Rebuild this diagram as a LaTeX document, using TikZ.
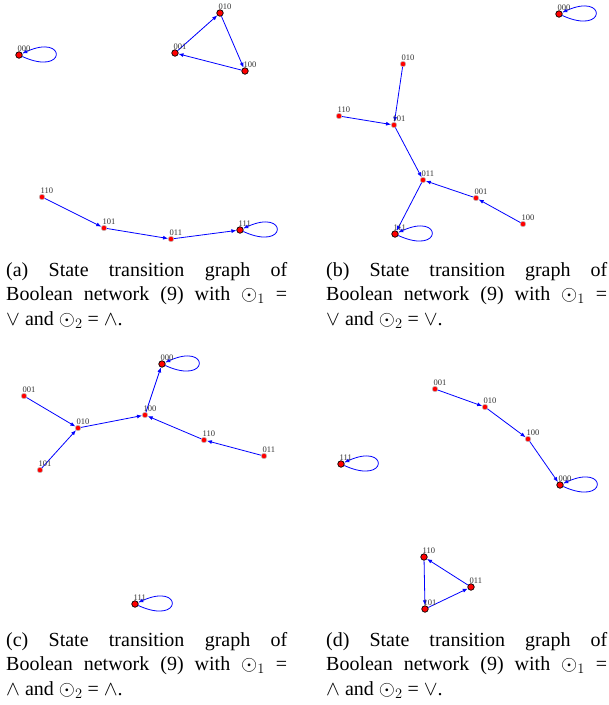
\documentclass[tikz,border=0pt]{standalone}
\usepackage{fontspec}
\setmainfont{Liberation Serif}
\usetikzlibrary{arrows.meta}
\newcommand\gnode[5]{\node[#1] (#2) at (#3,#4) {};}
\newcommand\glabel[4]{\node[lbl] (#1l) at (#2-1.5,#3-3.5) {#4};}
\newcommand\capt[2]{\parbox[t]{#1}{\tolerance=10000\hbadness=10000\hyphenpenalty=10000 #2}}
\begin{document}
\begin{tikzpicture}[x=1pt,y=-1pt,
 att/.style={circle,fill=red,draw=black,line width=0.7pt,minimum size=6.5pt,inner sep=0pt},
 st/.style={circle,fill=red,draw=black!25,line width=0.5pt,minimum size=5.5pt,inner sep=0pt},
 lbl/.style={anchor=base west,inner sep=0pt,text=black!80,font=\fontsize{8.5}{9}\selectfont},
 tr/.style={draw=blue,line width=0.8pt,-{Latex[length=5pt,width=4pt]}},
 captxt/.style={anchor=base west,inner sep=0pt,font=\fontsize{20}{24.5}\selectfont}]
\useasboundingbox (0,0) rectangle (609,705);
% ---------- panel (a)
\gnode{att}{a000}{19}{55}{000}
\gnode{att}{a001}{175}{53}{001}
\gnode{att}{a010}{220}{13}{010}
\gnode{att}{a100}{245}{71}{100}
\gnode{st}{a110}{42}{197}{110}
\gnode{st}{a101}{104}{228}{101}
\gnode{st}{a011}{171}{239}{011}
\gnode{att}{a111}{240}{230}{111}
\draw[tr] (a001) -- (a010);
\draw[tr] (a010) -- (a100);
\draw[tr] (a100) -- (a001);
\draw[tr] (a110) -- (a101);
\draw[tr] (a101) -- (a011);
\draw[tr] (a011) -- (a111);
\draw[tr] (a000) .. controls +(48,22) and +(48,-22) .. (a000);
\draw[tr] (a111) .. controls +(48,22) and +(48,-22) .. (a111);
\glabel{a000}{19}{55}{000}
\glabel{a001}{175}{53}{001}
\glabel{a010}{220}{13}{010}
\glabel{a100}{245}{71}{100}
\glabel{a110}{42}{197}{110}
\glabel{a101}{104}{228}{101}
\glabel{a011}{171}{239}{011}
\glabel{a111}{240}{230}{111}
% ---------- panel (b)
\gnode{att}{b000}{559}{14}{000}
\gnode{st}{b010}{403}{64}{010}
\gnode{st}{b110}{339}{116}{110}
\gnode{st}{b101}{394}{125}{101}
\gnode{st}{b011}{423}{180}{011}
\gnode{st}{b001}{476}{198}{001}
\gnode{st}{b100}{523}{224}{100}
\gnode{att}{b111}{395}{234}{111}
\draw[tr] (b010) -- (b101);
\draw[tr] (b110) -- (b101);
\draw[tr] (b101) -- (b011);
\draw[tr] (b100) -- (b001);
\draw[tr] (b001) -- (b011);
\draw[tr] (b011) -- (b111);
\draw[tr] (b000) .. controls +(48,22) and +(48,-22) .. (b000);
\draw[tr] (b111) .. controls +(48,22) and +(48,-22) .. (b111);
\glabel{b000}{559}{14}{000}
\glabel{b010}{403}{64}{010}
\glabel{b110}{339}{116}{110}
\glabel{b101}{394}{125}{101}
\glabel{b011}{423}{180}{011}
\glabel{b001}{476}{198}{001}
\glabel{b100}{523}{224}{100}
\glabel{b111}{395}{234}{111}
% ---------- panel (c)
\gnode{att}{c000}{162}{364}{000}
\gnode{st}{c001}{24}{396}{001}
\gnode{st}{c010}{78}{428}{010}
\gnode{st}{c101}{40}{470}{101}
\gnode{st}{c100}{145}{415}{100}
\gnode{st}{c110}{204}{440}{110}
\gnode{st}{c011}{264}{456}{011}
\gnode{att}{c111}{135}{604}{111}
\draw[tr] (c001) -- (c010);
\draw[tr] (c101) -- (c010);
\draw[tr] (c010) -- (c100);
\draw[tr] (c110) -- (c100);
\draw[tr] (c011) -- (c110);
\draw[tr] (c100) -- (c000);
\draw[tr] (c000) .. controls +(48,22) and +(48,-22) .. (c000);
\draw[tr] (c111) .. controls +(48,22) and +(48,-22) .. (c111);
\glabel{c000}{162}{364}{000}
\glabel{c001}{24}{396}{001}
\glabel{c010}{78}{428}{010}
\glabel{c101}{40}{470}{101}
\glabel{c100}{145}{415}{100}
\glabel{c110}{204}{440}{110}
\glabel{c011}{264}{456}{011}
\glabel{c111}{135}{604}{111}
% ---------- panel (d)
\gnode{st}{d001}{435}{389}{001}
\gnode{st}{d010}{485}{407}{010}
\gnode{st}{d100}{528}{439}{100}
\gnode{att}{d000}{560}{485}{000}
\gnode{att}{d111}{341}{464}{111}
\gnode{att}{d110}{424}{557}{110}
\gnode{att}{d011}{471}{587}{011}
\gnode{att}{d101}{425}{609}{101}
\draw[tr] (d001) -- (d010);
\draw[tr] (d010) -- (d100);
\draw[tr] (d100) -- (d000);
\draw[tr] (d110) -- (d101);
\draw[tr] (d101) -- (d011);
\draw[tr] (d011) -- (d110);
\draw[tr] (d000) .. controls +(48,22) and +(48,-22) .. (d000);
\draw[tr] (d111) .. controls +(48,22) and +(48,-22) .. (d111);
\glabel{d001}{435}{389}{001}
\glabel{d010}{485}{407}{010}
\glabel{d100}{528}{439}{100}
\glabel{d000}{560}{485}{000}
\glabel{d111}{341}{464}{111}
\glabel{d110}{424}{557}{110}
\glabel{d011}{471}{587}{011}
\glabel{d101}{425}{609}{101}
% ---------- captions
\node[captxt] (capa) at (6,276) {\capt{281pt}{(a) State transition graph of\linebreak Boolean network (9) with $\odot_1$ =\linebreak $\vee$ and $\odot_2$ = $\wedge$.}};
\node[captxt] (capb) at (326,276) {\capt{281pt}{(b) State transition graph of\linebreak Boolean network (9) with $\odot_1$ =\linebreak $\vee$ and $\odot_2$ = $\vee$.}};
\node[captxt] (capc) at (6,646) {\capt{281pt}{(c) State transition graph of\linebreak Boolean network (9) with $\odot_1$ =\linebreak $\wedge$ and $\odot_2$ = $\wedge$.}};
\node[captxt] (capd) at (326,646) {\capt{281pt}{(d) State transition graph of\linebreak Boolean network (9) with $\odot_1$ =\linebreak $\wedge$ and $\odot_2$ = $\vee$.}};
\end{tikzpicture}
\end{document}
